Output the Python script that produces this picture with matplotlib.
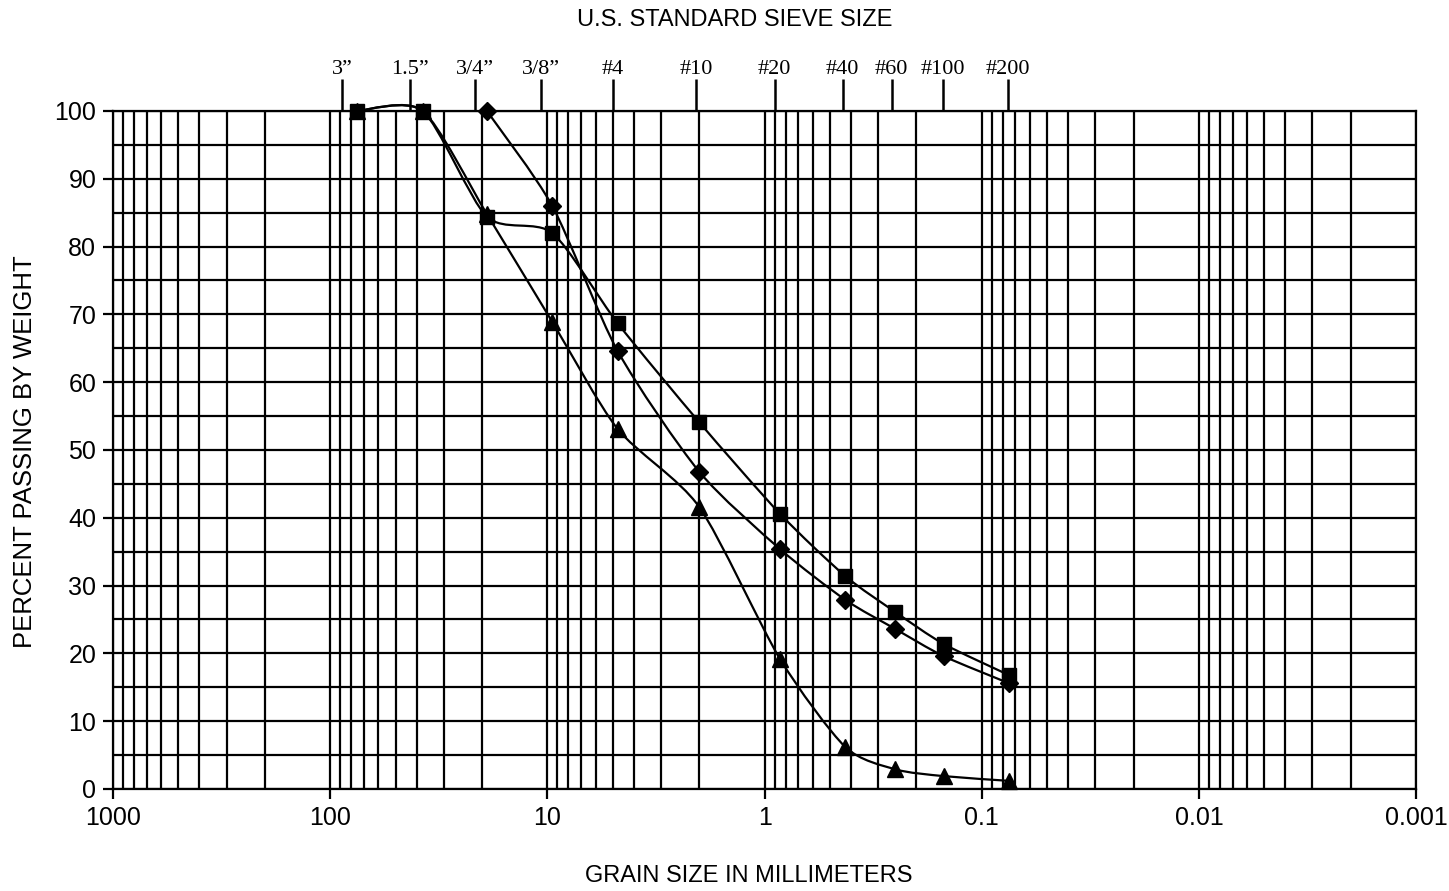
import numpy as np
import matplotlib
matplotlib.use("Agg")
import matplotlib.pyplot as plt
from matplotlib.path import Path
from matplotlib.patches import PathPatch
from matplotlib.ticker import LogLocator, NullLocator, MultipleLocator, FixedLocator

# sieve openings (mm)
sizes_sq = [75, 37.5, 19, 9.5, 4.75, 2.0, 0.85, 0.425, 0.25, 0.15, 0.075]
pass_sq = [100, 100, 84.4, 82.0, 68.7, 54.1, 40.6, 31.4, 26.1, 21.4, 16.8]

sizes_dm = [19, 9.5, 4.75, 2.0, 0.85, 0.425, 0.25, 0.15, 0.075]
pass_dm = [100, 86.0, 64.6, 46.8, 35.4, 27.9, 23.6, 19.6, 15.6]

sizes_tr = [75, 37.5, 19, 9.5, 4.75, 2.0, 0.85, 0.425, 0.25, 0.15, 0.075]
pass_tr = [100, 100, 84.8, 68.9, 53.1, 41.6, 19.2, 6.2, 2.9, 1.9, 1.2]

# top sieve labels, at the spots where they are drawn on the form
sieve_labels = ['3\u201d', '1.5\u201d', '3/4\u201d', '3/8\u201d', '#4', '#10', '#20', '#40', '#60', '#100', '#200']
sieve_pos = [88.0, 42.8, 21.5, 10.7, 5.01, 2.06, 0.899, 0.437, 0.260, 0.151, 0.0759]

x_ticks = [1000, 100, 10, 1, 0.1, 0.01, 0.001]
x_ticklabels = ['1000', '100', '10', '1', '0.1', '0.01', '0.001']

plt.rcParams['font.family'] = ['Liberation Sans', 'DejaVu Sans']


def smooth_path(xs, ys, k=1 / 8):
    # smoothed line like the spreadsheet one: cubic bezier, tangents from neighbours, log-x space
    lx = np.log10(np.asarray(xs, float))
    y = np.asarray(ys, float)
    n = len(lx)
    verts = [(xs[0], ys[0])]
    codes = [Path.MOVETO]
    for i in range(n - 1):
        i0 = max(i - 1, 0)
        i3 = min(i + 2, n - 1)
        c1 = (lx[i] + (lx[i + 1] - lx[i0]) * k, y[i] + (y[i + 1] - y[i0]) * k)
        c2 = (lx[i + 1] - (lx[i3] - lx[i]) * k, y[i + 1] - (y[i3] - y[i]) * k)
        verts += [(10 ** c1[0], c1[1]), (10 ** c2[0], c2[1]), (xs[i + 1], ys[i + 1])]
        codes += [Path.CURVE4] * 3
    return Path(verts, codes)


fig = plt.figure(figsize=(14.49, 8.91), dpi=100)
ax = fig.add_axes([0.078, 0.1145, 0.8993, 0.761])

ax.set_xscale('log')
ax.set_xlim(1000, 0.001)
ax.set_ylim(0, 100)

ax.xaxis.set_major_locator(FixedLocator(x_ticks))
ax.set_xticklabels(x_ticklabels)
ax.xaxis.set_minor_locator(LogLocator(base=10, subs=np.arange(2, 10)))
ax.xaxis.set_minor_formatter(plt.NullFormatter())
ax.yaxis.set_major_locator(MultipleLocator(10))
ax.yaxis.set_minor_locator(MultipleLocator(5))

ax.grid(True, which='both', color='black', linewidth=1.6)
ax.tick_params(which='major', direction='out', length=7, width=1.6, labelsize=18, pad=5)
ax.tick_params(which='minor', length=0)
for s in ax.spines.values():
    s.set_linewidth(1.6)

for xs, ys, mk, ms in [(sizes_sq, pass_sq, 's', 10),
                       (sizes_dm, pass_dm, 'D', 9.5),
                       (sizes_tr, pass_tr, '^', 12)]:
    ax.add_patch(PathPatch(smooth_path(xs, ys), facecolor='none', edgecolor='black',
                           linewidth=1.6, zorder=3, clip_on=False))
    ax.plot(xs, ys, linestyle='none', marker=mk, markersize=ms, color='black', zorder=4, clip_on=False)

sec = ax.secondary_xaxis('top')
sec.set_xticks(sieve_pos)
sec.set_xticklabels(sieve_labels, fontfamily='Liberation Serif', fontsize=16)
sec.xaxis.set_minor_locator(NullLocator())
sec.tick_params(direction='out', length=23, width=1.8, pad=0)
sec.spines['top'].set_visible(False)

fig.text(0.507, 1 - 20 / 891, 'U.S. STANDARD SIEVE SIZE', ha='center', va='center', fontsize=17)
fig.text(0.517, 1 - 876 / 891, 'GRAIN SIZE IN MILLIMETERS', ha='center', va='center', fontsize=17)
fig.text(25 / 1449, 1 - 452 / 891, 'PERCENT PASSING BY WEIGHT', ha='center', va='center',
         rotation=90, fontsize=18.5)

fig.savefig('out.png', dpi=100)
